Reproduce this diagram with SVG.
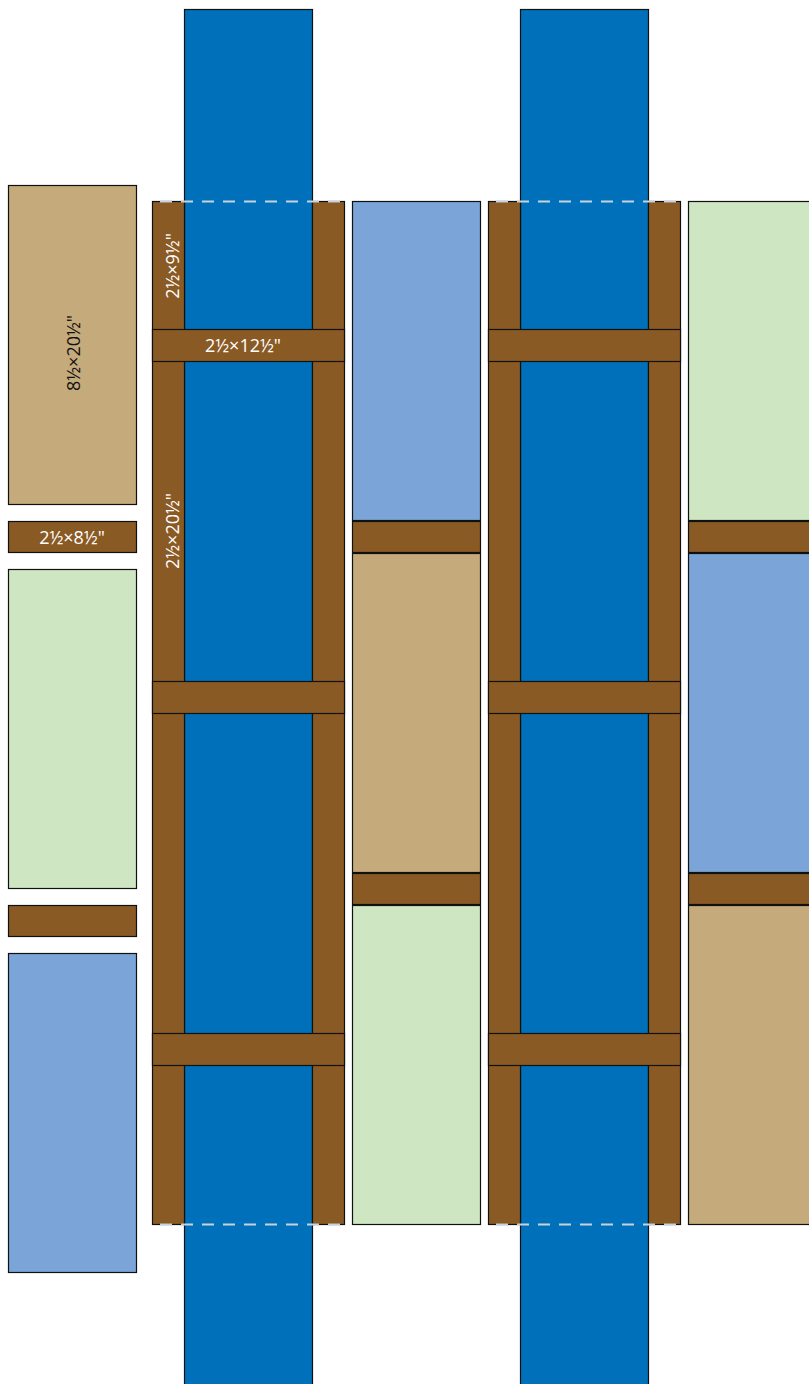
<svg xmlns="http://www.w3.org/2000/svg" width="809" height="1384" viewBox="0 0 809 1384">
<style>
rect{stroke:#111;stroke-width:1.2}
.bl{fill:#0070BA}.br{fill:#8A5A24}.tn{fill:#C5AA7B}.lb{fill:#7BA5D8}.gr{fill:#CFE6C2}
.dash{stroke:#C8D2DC;stroke-width:2;stroke-dasharray:12 9;fill:none}
text{font-family:"Open Sans","Liberation Sans",sans-serif;font-size:18px;text-anchor:middle;dominant-baseline:central}
.w{fill:#fff}.k{fill:#111}
</style>
<g id="left-column">
<rect class="tn" x="8.5" y="185.5" width="128" height="319"/>
<rect class="br" x="8.5" y="521.5" width="128" height="31"/>
<rect class="gr" x="8.5" y="569.5" width="128" height="319"/>
<rect class="br" x="8.5" y="905.5" width="128" height="31"/>
<rect class="lb" x="8.5" y="953.5" width="128" height="319"/>
<text class="k" transform="translate(73,353) rotate(-90)">8½×20½"</text>
<text class="w" x="72" y="537">2½×8½"</text>
</g>
<g id="frame-1">
<rect class="bl" x="184.5" y="9.5" width="128" height="1380"/>
<rect class="br" x="152.5" y="201.5" width="32" height="1023"/>
<rect class="br" x="312.5" y="201.5" width="32" height="1023"/>
<rect class="br" x="152.5" y="329.5" width="192" height="32"/>
<rect class="br" x="152.5" y="681.5" width="192" height="32"/>
<rect class="br" x="152.5" y="1033.5" width="192" height="32"/>
<text class="w" transform="translate(172,266) rotate(-90)">2½×9½"</text>
<text class="w" x="243" y="345">2½×12½"</text>
<text class="w" transform="translate(172,531) rotate(-90)">2½×20½"</text>
</g>
<g id="column-2">
<rect class="lb" x="352.5" y="201.5" width="128" height="319"/>
<rect class="br" x="352.5" y="521.5" width="128" height="31"/>
<rect class="tn" x="352.5" y="553.5" width="128" height="319"/>
<rect class="br" x="352.5" y="873.5" width="128" height="31"/>
<rect class="gr" x="352.5" y="905.5" width="128" height="319"/>
</g>
<g id="frame-2">
<rect class="bl" x="520.5" y="9.5" width="128" height="1380"/>
<rect class="br" x="488.5" y="201.5" width="32" height="1023"/>
<rect class="br" x="648.5" y="201.5" width="32" height="1023"/>
<rect class="br" x="488.5" y="329.5" width="192" height="32"/>
<rect class="br" x="488.5" y="681.5" width="192" height="32"/>
<rect class="br" x="488.5" y="1033.5" width="192" height="32"/>
</g>
<g id="column-4">
<rect class="gr" x="688.5" y="201.5" width="128" height="319"/>
<rect class="br" x="688.5" y="521.5" width="128" height="31"/>
<rect class="lb" x="688.5" y="553.5" width="128" height="319"/>
<rect class="br" x="688.5" y="873.5" width="128" height="31"/>
<rect class="tn" x="688.5" y="905.5" width="128" height="319"/>
</g>
<g id="connectors">
<line class="dash" x1="160" y1="201.5" x2="344" y2="201.5"/>
<line class="dash" x1="160" y1="1224.5" x2="344" y2="1224.5"/>
<line class="dash" x1="496" y1="201.5" x2="680" y2="201.5"/>
<line class="dash" x1="496" y1="1224.5" x2="680" y2="1224.5"/>
</g>
</svg>
